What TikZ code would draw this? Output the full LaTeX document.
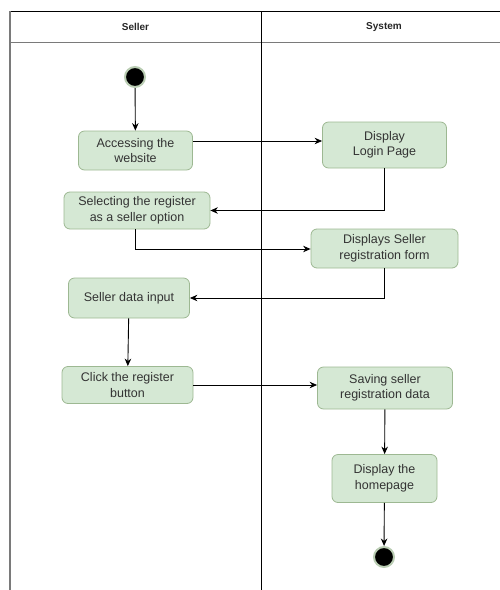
\documentclass[tikz,border=0pt]{standalone}
\usepackage{fontspec}
\setmainfont{Liberation Sans}
\usetikzlibrary{arrows.meta}
\definecolor{actfill}{HTML}{D5E8D4}
\definecolor{actline}{HTML}{9DB892}
\definecolor{txt}{HTML}{333333}
\definecolor{lanegray}{HTML}{7A7A7A}
\tikzset{
  act/.style={draw=actline, fill=actfill, rounded corners=6pt, line width=0.8pt,
    text=txt, align=center, inner sep=0pt,
    font=\fontsize{12.5}{15.5}\selectfont},
  dot/.style={circle, fill=black, draw=actline!70, line width=2pt,
    minimum size=20pt, inner sep=0pt},
  flow/.style={draw=black, line width=0.9pt, -{Stealth[length=7.5pt,width=6.5pt]}},
  lanehead/.style={text=black!85, font=\fontsize{10}{12}\selectfont\bfseries}
}
\begin{document}
\begin{tikzpicture}[x=1pt,y=-1pt]
  \useasboundingbox (0,0) rectangle (500,590);
  % swimlane frame
  \draw[black, line width=1.3pt] (10,11.5) -- (500,11.5);
  \draw[lanegray, line width=1.6pt] (10,42.5) -- (500,42.5);
  \draw[lanegray, line width=2pt] (10,11) -- (10,590);
  \draw[black, line width=1pt] (261,11.5) -- (261,590);
  \node[lanehead] (hseller) at (135.5,27) {Seller};
  \node[lanehead] (hsystem) at (384,27) {System};

  % activities
  \node[dot] (start) at (135,77) {};
  \node[act, minimum width=114pt, minimum height=39pt] (acc) at (135.5,150.5) {Accessing the\\website};
  \node[act, minimum width=124pt, minimum height=46pt] (login) at (384.5,145) {Display\\Login Page};
  \node[act, minimum width=146pt, minimum height=37pt] (sel) at (137,210.5) {Selecting the register\\as a seller option};
  \node[act, minimum width=147pt, minimum height=39pt] (form) at (384.5,248.5) {Displays Seller\\registration form};
  \node[act, minimum width=121pt, minimum height=40pt] (input) at (129,298) {Seller data input};
  \node[act, minimum width=131pt, minimum height=37pt] (click) at (127.5,385) {Click the register\\button};
  \node[act, minimum width=135pt, minimum height=42pt] (save) at (385,388) {Saving seller\\registration data};
  \node[act, minimum width=105pt, minimum height=48pt] (home) at (384.5,478.5) {Display the\\homepage};
  \node[dot] (stop) at (384,557) {};

  % control flow
  \draw[flow] (start) -- (acc);
  \draw[flow] (acc.east |- 0,141) -- (login.west |- 0,141);
  \draw[flow] (login.south) |- (sel.east);
  \draw[flow] (sel.south -| 135,0) |- (form.west |- 0,249);
  \draw[flow] (form.south) |- (input.east);
  \draw[flow] (input) -- (click);
  \draw[flow] (click.east) -- (save.west |- click.east);
  \draw[flow] (save) -- (home);
  \draw[flow] (home) -- (stop);
\end{tikzpicture}
\end{document}
